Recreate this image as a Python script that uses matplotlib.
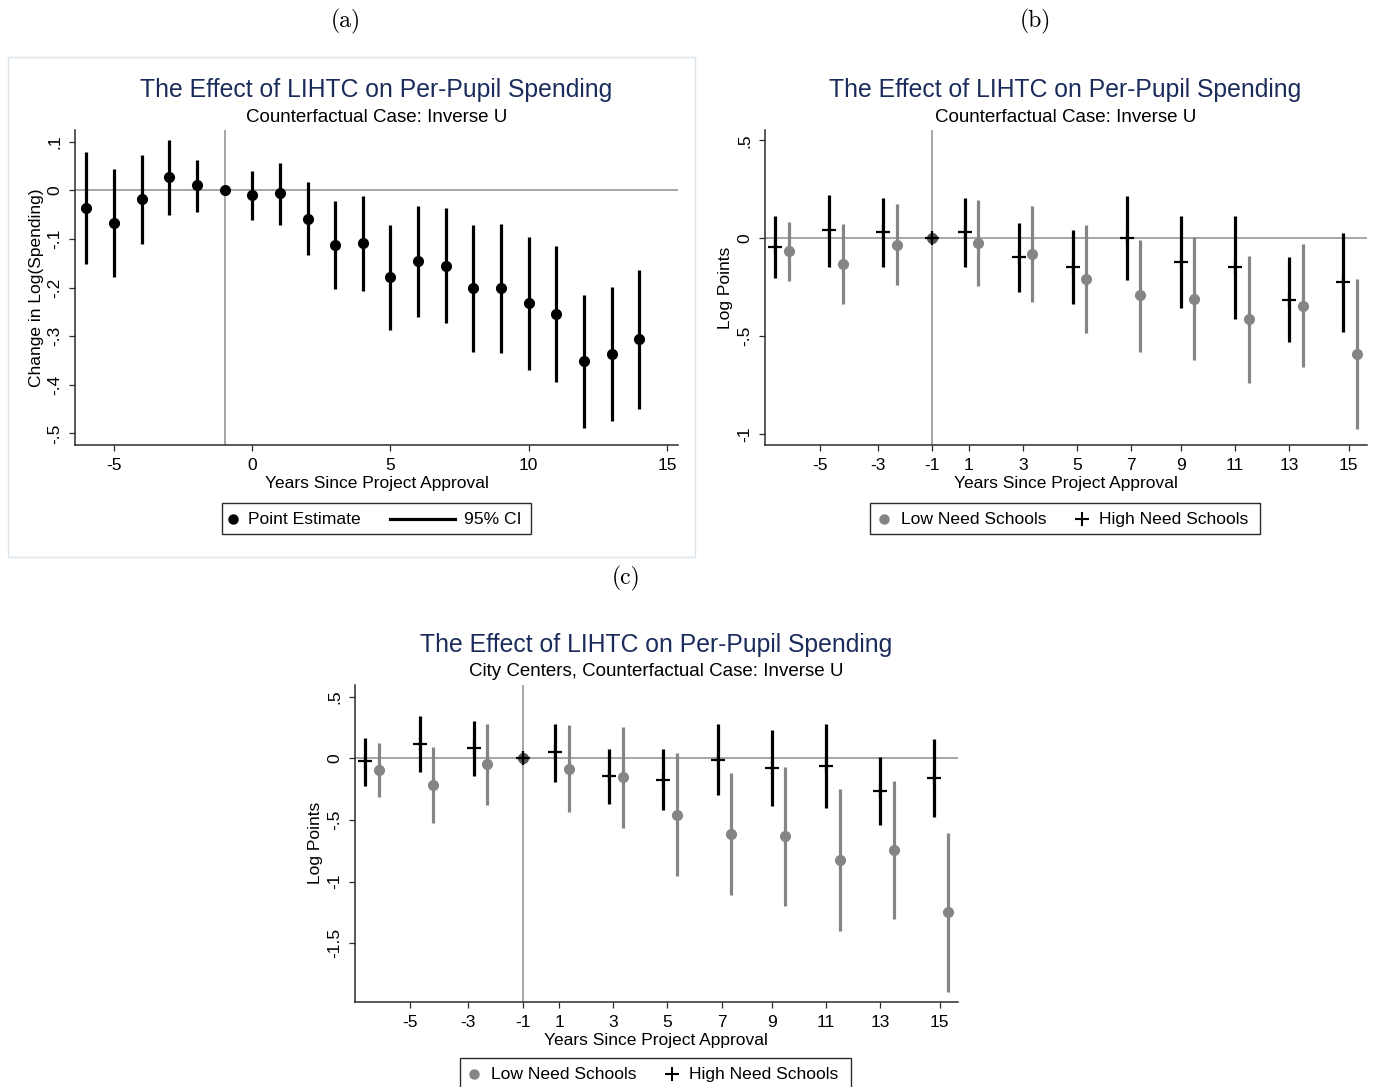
import matplotlib
matplotlib.use('Agg')
import matplotlib.pyplot as plt
import numpy as np
from matplotlib.lines import Line2D
from matplotlib.patches import Rectangle

plt.rcParams['font.family'] = ['Liberation Sans', 'DejaVu Sans']
plt.rcParams['axes.unicode_minus'] = False

# ---------- data: panel (a), pooled estimates ----------
years_a = np.arange(-6, 15)
est_a = [-0.036, -0.067, -0.018, 0.027, 0.010, 0.0, -0.010, -0.006, -0.059, -0.113, -0.109,
         -0.178, -0.146, -0.155, -0.201, -0.201, -0.232, -0.255, -0.352, -0.336, -0.306]
lo_a = [-0.151, -0.178, -0.111, -0.050, -0.044, np.nan, -0.061, -0.071, -0.133, -0.204, -0.207,
        -0.288, -0.261, -0.273, -0.332, -0.335, -0.369, -0.395, -0.490, -0.475, -0.449]
hi_a = [0.078, 0.044, 0.072, 0.103, 0.063, np.nan, 0.040, 0.057, 0.016, -0.023, -0.012,
        -0.071, -0.033, -0.036, -0.072, -0.069, -0.096, -0.115, -0.215, -0.199, -0.164]

# ---------- data: panels (b) and (c), split by school need ----------
# high need drawn at these positions, low need half a year to the right
pos_high = [-6, -4, -2, 1, 3, 5, 7, 9, 11, 13, 15]
pos_ref = -0.2          # omitted year (-1), normalised to 0
tick_pos = [-4.35, -2.2, -0.2, 1.15, 3.15, 5.15, 7.15, 9, 11, 13, 15.2]
tick_lab = ['-5', '-3', '-1', '1', '3', '5', '7', '9', '11', '13', '15']

high_b_est = [-0.043, 0.041, 0.031, 0.031, -0.095, -0.146, 0.003, -0.121, -0.146, -0.313, -0.225]
high_b_hi = [0.114, 0.221, 0.206, 0.206, 0.078, 0.044, 0.214, 0.116, 0.112, -0.097, 0.027]
high_b_lo = [-0.204, -0.145, -0.146, -0.146, -0.276, -0.335, -0.214, -0.357, -0.412, -0.531, -0.477]
low_b_est = [-0.066, -0.129, -0.032, -0.022, -0.078, -0.206, -0.289, -0.310, -0.414, -0.346, -0.592]
low_b_hi = [0.082, 0.071, 0.174, 0.197, 0.167, 0.068, -0.007, 0.005, -0.092, -0.031, -0.209]
low_b_lo = [-0.220, -0.334, -0.237, -0.242, -0.323, -0.482, -0.579, -0.623, -0.739, -0.659, -0.974]

high_c_est = [-0.022, 0.114, 0.081, 0.049, -0.143, -0.173, -0.011, -0.081, -0.062, -0.262, -0.157]
high_c_hi = [0.168, 0.343, 0.305, 0.276, 0.078, 0.073, 0.276, 0.227, 0.281, 0.011, 0.154]
high_c_lo = [-0.224, -0.114, -0.146, -0.189, -0.373, -0.422, -0.297, -0.389, -0.405, -0.541, -0.473]
low_c_est = [-0.092, -0.216, -0.049, -0.084, -0.154, -0.457, -0.611, -0.632, -0.827, -0.746, -1.249]
low_c_hi = [0.122, 0.089, 0.276, 0.270, 0.257, 0.043, -0.122, -0.073, -0.249, -0.184, -0.603]
low_c_lo = [-0.316, -0.527, -0.376, -0.435, -0.565, -0.957, -1.105, -1.200, -1.403, -1.303, -1.892]

NAVY = '#1b2b5b'
GRAY = '#858585'
REFGRAY = '#8e8e8e'
AXCOL = '#2b2b2b'
W, H = 1380, 1087

fig = plt.figure(figsize=(13.8, 10.87), dpi=100)


def rect(l, t, r, b):
    return [l / W, 1 - b / H, (r - l) / W, (b - t) / H]


def fx(x):
    return x / W


def fy(y):
    return 1 - y / H


def stata_fmt(v):
    s = f'{v:g}'
    return s.replace('0.', '.')


def style(ax, xlim, ylim, yticks, xticks, xlabels, ylabel, ylab_off):
    ax.set_xlim(xlim)
    ax.set_ylim(ylim)
    for s in ['top', 'right']:
        ax.spines[s].set_visible(False)
    for s in ['left', 'bottom']:
        ax.spines[s].set_linewidth(1.1)
        ax.spines[s].set_color(AXCOL)
    ax.set_yticks(yticks)
    ax.set_yticklabels([stata_fmt(v) for v in yticks], rotation=90, va='center')
    ax.set_xticks(xticks)
    ax.set_xticklabels(xlabels)
    ax.tick_params(direction='out', length=4, width=0.9, color=AXCOL, labelsize=12.5)
    ax.tick_params(axis='x', pad=5.5)
    ax.tick_params(axis='y', pad=5)
    ax.set_xlabel('Years Since Project Approval', fontsize=12.5, labelpad=2)
    ax.set_ylabel(ylabel, fontsize=12.5)
    ax.yaxis.set_label_coords(ylab_off, 0.5)


def titles(cx, y, sub):
    fig.text(fx(cx), fy(y), 'The Effect of LIHTC on Per-Pupil Spending',
             ha='center', va='center', fontsize=17.8, color=NAVY)
    fig.text(fx(cx), fy(y + 27), sub, ha='center', va='center', fontsize=13.5)


def draw_split(ax, hi_est, hi_lo, hi_hi, lo_est, lo_lo, lo_hi):
    ph = np.array(pos_high, dtype=float)
    pl = ph + 0.5
    ax.axhline(0, color=REFGRAY, lw=1.1, zorder=1)
    ax.axvline(pos_ref, color=REFGRAY, lw=1.1, zorder=1)
    ax.vlines(ph, hi_lo, hi_hi, color='black', lw=2.3, zorder=2)
    ax.plot(ph, hi_est, '+', color='black', ms=10, mew=1.6, zorder=3)
    ax.vlines(pl, lo_lo, lo_hi, color=GRAY, lw=2.3, zorder=2)
    ax.plot(pl, lo_est, 'o', color=GRAY, ms=7, zorder=3)
    ax.plot(pos_ref, 0, 'o', color='#555555', ms=7, zorder=3)
    ax.plot(pos_ref, 0, '+', color='black', ms=10, mew=1.6, zorder=4)


def legend(l, t, r, b, items):
    fig.add_artist(Rectangle((fx(l), fy(b)), (r - l) / W, (b - t) / H, transform=fig.transFigure,
                             facecolor='white', edgecolor=AXCOL, lw=1.0))
    yc = (t + b) / 2
    for kind, x0, x1, tx, label, col in items:
        if kind == 'line':
            fig.add_artist(Line2D([fx(x0), fx(x1)], [fy(yc), fy(yc)], transform=fig.transFigure,
                                  color=col, lw=2.3))
        elif kind == 'o':
            fig.add_artist(Line2D([fx(x0)], [fy(yc)], transform=fig.transFigure,
                                  marker='o', ls='none', color=col, ms=6.5))
        else:
            fig.add_artist(Line2D([fx(x0)], [fy(yc)], transform=fig.transFigure,
                                  marker='+', ls='none', color=col, ms=10, mew=1.5))
        fig.text(fx(tx), fy(yc + 1), label, ha='left', va='center', fontsize=12.6)


# ---------- panel (a) ----------
fig.add_artist(Rectangle((fx(8), fy(557)), 687 / W, 500 / H, transform=fig.transFigure,
                         facecolor='none', edgecolor='#dde5ec', lw=1.0))
ax_a = fig.add_axes(rect(75, 130, 678, 445))
lo = np.array(lo_a)
hi = np.array(hi_a)
ok = ~np.isnan(lo)
ax_a.axhline(0, color=REFGRAY, lw=1.1, zorder=1)
ax_a.axvline(-1, color=REFGRAY, lw=1.1, zorder=1)
ax_a.vlines(years_a[ok], lo[ok], hi[ok], color='black', lw=2.3, zorder=2)
ax_a.plot(years_a, est_a, 'o', color='black', ms=7, zorder=3)
style(ax_a, (-6.41, 15.4), (-0.524, 0.124), [0.1, 0, -0.1, -0.2, -0.3, -0.4, -0.5],
      [-5, 0, 5, 10, 15], ['-5', '0', '5', '10', '15'], 'Change in Log(Spending)', -31 / 603)
titles(376.5, 90, 'Counterfactual Case: Inverse U')
legend(222, 503, 531, 534, [('o', 233, 0, 248, 'Point Estimate', 'black'),
                            ('line', 390, 455, 464, '95% CI', 'black')])

# ---------- panel (b) ----------
ax_b = fig.add_axes(rect(764.5, 130, 1366.7, 445))
draw_split(ax_b, high_b_est, high_b_lo, high_b_hi, low_b_est, low_b_lo, low_b_hi)
style(ax_b, (-6.4, 15.87), (-1.055, 0.553), [0.5, 0, -0.5, -1],
      tick_pos, tick_lab, 'Log Points', -31 / 602)
titles(1065.6, 90, 'Counterfactual Case: Inverse U')
legend(870, 503, 1260, 534, [('o', 884, 0, 901, 'Low Need Schools', GRAY),
                             ('+', 1082, 0, 1099, 'High Need Schools', 'black')])

# ---------- panel (c) ----------
ax_c = fig.add_axes(rect(354.5, 685, 958, 1001.7))
draw_split(ax_c, high_c_est, high_c_lo, high_c_hi, low_c_est, low_c_lo, low_c_hi)
style(ax_c, (-6.4, 15.87), (-1.974, 0.594), [0.5, 0, -0.5, -1, -1.5],
      tick_pos, tick_lab, 'Log Points', -31 / 603)
titles(656, 645, 'City Centers, Counterfactual Case: Inverse U')
legend(460, 1058, 851, 1089, [('o', 474, 0, 491, 'Low Need Schools', GRAY),
                              ('+', 672, 0, 689, 'High Need Schools', 'black')])

# ---------- panel letters ----------
for lab, x, y in [('(a)', 346, 21), ('(b)', 1035, 21), ('(c)', 626, 578)]:
    fig.text(fx(x), fy(y), lab, ha='center', va='center', fontsize=17, family='cmr10')

fig.savefig('out.png', dpi=100)
